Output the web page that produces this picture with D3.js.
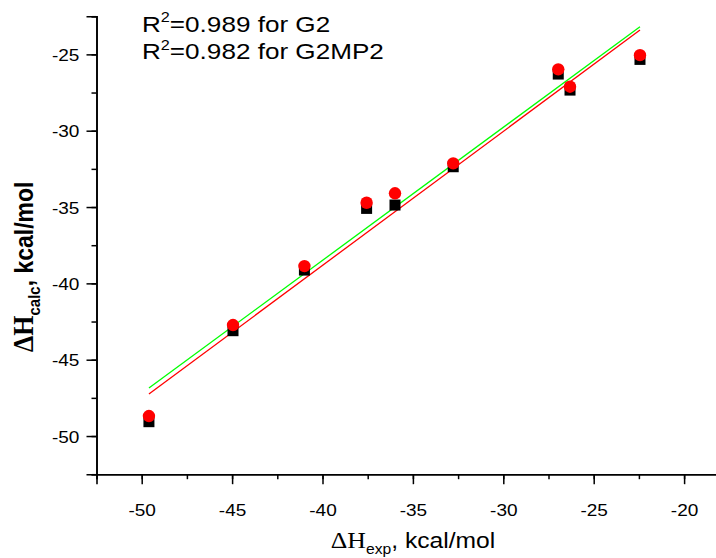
<!DOCTYPE html>
<html><head><meta charset="utf-8">
<script src="https://cdn.jsdelivr.net/npm/d3@7/dist/d3.min.js"></script>
<style>body{margin:0;background:#fff}svg{display:block}</style>
</head><body><svg id="c" width="716" height="558"></svg>
<script>
// experimental enthalpies (x) and calculated ones (y)
const expValues   = [-49.6, -44.95, -41.0, -37.56, -35.99, -32.77, -26.96, -26.31, -22.44];
const g2Values    = [-49.06, -43.10, -39.13, -35.09, -34.87, -32.36, -26.29, -27.34, -25.33];
const g2mp2Values = [-48.69, -42.73, -38.87, -34.72, -34.10, -32.14, -25.98, -27.12, -25.05];
// fitted lines (end points)
const fitX      = [-49.6, -22.44];
const fitGreenY = [-46.86, -23.19];
const fitRedY   = [-47.25, -23.41];
const xTicks = [-50, -45, -40, -35, -30, -25, -20];
const yTicks = [-50, -45, -40, -35, -30, -25];
const r2Labels = ["=0.989 for G2", "=0.982 for G2MP2"];

const svg = d3.select("#c");
svg.append("rect").attr("width", 716).attr("height", 558).attr("fill", "#fff");

const x = d3.scaleLinear().domain([-52.5, -17.5]).range([96.5, 729.3]);
const y = d3.scaleLinear().domain([-52.5, -22.5]).range([474.2, 16.2]);
const SX = 1.12;
const sans = "'Liberation Sans', Arial, sans-serif";
const serif = "'Liberation Serif', 'Times New Roman', serif";

function stretch(sel, ax, ay, s) {
  sel.attr("transform", `translate(${ax},${ay}) scale(${s || SX},1) translate(${-ax},${-ay})`);
}

// minor ticks
const minorX = d3.range(-52.5, -17.4, 2.5);
const minorY = d3.range(-52.5, -22.4, 2.5);
const xAxisMinor = svg.append("g").attr("transform", "translate(0,474.2)")
  .call(d3.axisBottom(x).tickValues(minorX).tickSize(5).tickFormat(""));
const yAxisMinor = svg.append("g").attr("transform", "translate(96.5,0)")
  .call(d3.axisLeft(y).tickValues(minorY).tickSize(5).tickFormat(""));
// major ticks
const xAxis = svg.append("g").attr("transform", "translate(0,474.2)")
  .call(d3.axisBottom(x).tickValues(xTicks).tickSize(10).tickPadding(18).tickFormat(d => d));
const yAxis = svg.append("g").attr("transform", "translate(96.5,0)")
  .call(d3.axisLeft(y).tickValues(yTicks).tickSize(10).tickPadding(7).tickFormat(d => d));

[xAxisMinor, yAxisMinor, xAxis, yAxis].forEach(g => {
  g.selectAll("path.domain").attr("stroke", "#000").attr("stroke-width", 1.6);
  g.selectAll(".tick line").attr("stroke", "#000").attr("stroke-width", 1.5);
});
xAxis.selectAll(".tick text").attr("font-family", sans).attr("font-size", 17).attr("fill", "#000")
  .attr("dy", "0").attr("y", 41.5)
  .attr("transform", `scale(${SX},1)`);
yAxis.selectAll(".tick text").attr("font-family", sans).attr("font-size", 17).attr("fill", "#000")
  .attr("dy", "0.36em")
  .attr("transform", `translate(-16,0) scale(${SX},1) translate(16,0)`);

// fit lines
const line = d3.line().x(d => x(d[0])).y(d => y(d[1]));
svg.append("path").datum(fitX.map((v, i) => [v, fitGreenY[i]]))
  .attr("d", line).attr("stroke", "#00ff00").attr("stroke-width", 1.3).attr("fill", "none");
svg.append("path").datum(fitX.map((v, i) => [v, fitRedY[i]]))
  .attr("d", line).attr("stroke", "#ff0000").attr("stroke-width", 1.3).attr("fill", "none");

// squares (G2)
const sq = 11;
svg.append("g").selectAll("rect").data(expValues).join("rect")
  .attr("x", d => x(d) - sq / 2).attr("y", (d, i) => y(g2Values[i]) - sq / 2)
  .attr("width", sq).attr("height", sq).attr("fill", "#000");
// circles (G2MP2)
svg.append("g").selectAll("circle").data(expValues).join("circle")
  .attr("cx", d => x(d)).attr("cy", (d, i) => y(g2mp2Values[i])).attr("r", 6.2)
  .attr("fill", "#ff0000");

// R^2 annotations
r2Labels.forEach((lab, i) => {
  const by = 31.7 + i * 27.6;
  const t = svg.append("text").attr("x", 142).attr("y", by)
    .attr("font-family", sans).attr("font-size", 22.5).attr("fill", "#000");
  t.append("tspan").text("R");
  t.append("tspan").attr("font-size", 14).attr("dy", -9.5).text("2");
  t.append("tspan").attr("dy", 9.5).text(lab);
  stretch(t, 142, by, 1.16);
});

// x label
const xl = svg.append("text").attr("x", 413).attr("y", 548).attr("text-anchor", "middle")
  .attr("font-family", sans).attr("font-size", 22).attr("fill", "#000");
xl.append("tspan").attr("font-family", serif).attr("font-size", 23).text("ΔH");
xl.append("tspan").attr("font-size", 14).attr("dy", 6).text("exp");
xl.append("tspan").attr("dy", -6).text(", kcal/mol");
stretch(xl, 413, 548);

// y label
const yl = svg.append("text")
  .attr("transform", `translate(33,352) scale(${SX},1) rotate(-90)`)
  .attr("font-family", sans).attr("font-size", 23).attr("font-weight", "bold").attr("fill", "#000");
yl.append("tspan").attr("font-family", serif).attr("font-size", 26).text("ΔH");
yl.append("tspan").attr("font-size", 15).attr("dy", 6).text("calc");
yl.append("tspan").attr("dy", -6).text(", kcal/mol");
</script></body></html>
